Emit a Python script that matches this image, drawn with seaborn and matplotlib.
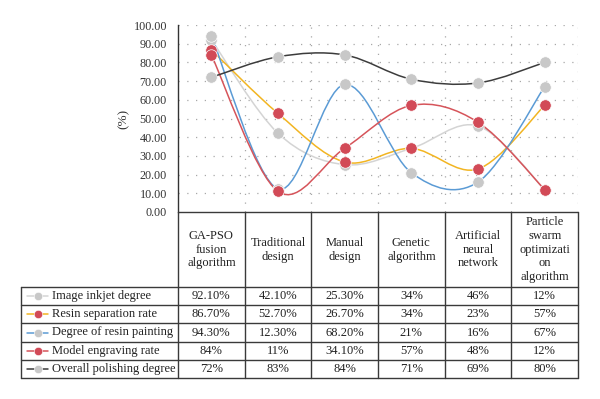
import numpy as np
import pandas as pd
import matplotlib
matplotlib.use("Agg")
import matplotlib.pyplot as plt
from matplotlib.path import Path
from matplotlib.patches import PathPatch
from matplotlib.lines import Line2D
import seaborn as sns

categories = ["GA-PSO\nfusion\nalgorithm", "Traditional\ndesign", "Manual\ndesign",
              "Genetic\nalgorithm", "Artificial\nneural\nnetwork",
              "Particle\nswarm\noptimizati\non\nalgorithm"]
series_names = ["Image inkjet degree", "Resin separation rate", "Degree of resin painting",
                "Model engraving rate", "Overall polishing degree"]
image_inkjet = [92.1, 42.1, 25.3, 34, 46, 12]
resin_separation = [86.7, 52.7, 26.7, 34, 23, 57]
resin_painting = [94.3, 12.3, 68.2, 21, 16, 67]
model_engraving = [84, 11, 34.1, 57, 48, 12]
overall_polishing = [72, 83, 84, 71, 69, 80]
table_labels = [["92.10%", "42.10%", "25.30%", "34%", "46%", "12%"],
                ["86.70%", "52.70%", "26.70%", "34%", "23%", "57%"],
                ["94.30%", "12.30%", "68.20%", "21%", "16%", "67%"],
                ["84%", "11%", "34.10%", "57%", "48%", "12%"],
                ["72%", "83%", "84%", "71%", "69%", "80%"]]
yticks = [0, 10, 20, 30, 40, 50, 60, 70, 80, 90, 100]

values = [image_inkjet, resin_separation, resin_painting, model_engraving, overall_polishing]
line_colors = ["#d4d4d4", "#f2b522", "#5b9bd5", "#d6545a", "#3c3c3c"]
marker_colors = ["#c8c8c8", "#d24a57", "#c8c8c8", "#d24a57", "#c8c8c8"]

sns.set_theme(style="white")
plt.rcParams["font.family"] = ["Liberation Serif", "DejaVu Serif"]

fig = plt.figure(figsize=(6, 3.99), dpi=100)
W, H = 600, 399
x0, x1, ytop, ybot = 178, 578, 25, 212
ax = fig.add_axes([x0 / W, 1 - ybot / H, (x1 - x0) / W, (ybot - ytop) / H])

def smooth_path(xs, ys):
    pts = np.column_stack([xs, ys]).astype(float)
    n = len(pts)
    verts = [pts[0]]
    codes = [Path.MOVETO]
    for i in range(n - 1):
        p0 = pts[i - 1] if i > 0 else pts[i]
        p1 = pts[i]
        p2 = pts[i + 1]
        p3 = pts[i + 2] if i + 2 < n else pts[i + 1]
        c1 = p1 + (p2 - p0) / 6.0
        c2 = p2 - (p3 - p1) / 6.0
        verts += [c1, c2, p2]
        codes += [Path.CURVE4] * 3
    return Path(verts, codes)

xs = np.arange(len(categories))
for k, (name, vals) in enumerate(zip(series_names, values)):
    patch = PathPatch(smooth_path(xs, vals), facecolor="none", edgecolor=line_colors[k],
                      lw=1.1, zorder=3 + k * 0.1)
    ax.add_patch(patch)

for k, (name, vals) in enumerate(zip(series_names, values)):
    df = pd.DataFrame({"x": xs, "y": vals})
    sns.scatterplot(data=df, x="x", y="y", ax=ax, color=marker_colors[k], s=68,
                    edgecolor="white", linewidth=0.5, zorder=5 + k * 0.1, legend=False)

ax.set_xlim(-0.5, len(categories) - 0.5)
ax.set_ylim(0, 100)
ax.set_yticks(yticks)
ax.set_yticklabels([f"{t:.2f}" for t in yticks], fontsize=8.7, color="#333333")
ax.set_xticks([])
ax.set_xlabel("")
ax.set_ylabel("(%)", fontsize=9.5, color="#333333", labelpad=3)
ax.tick_params(axis="y", length=0, pad=8)

grid_kw = dict(color="#a8a8a8", lw=0.9, linestyle=(0, (1, 6)), zorder=1)
for t in yticks[1:]:
    ax.axhline(t, **grid_kw)
for b in np.arange(0.5, len(categories), 1.0):
    ax.axvline(b, **grid_kw)

for s in ["top", "right", "bottom"]:
    ax.spines[s].set_visible(False)
ax.spines["left"].set_color("#333333")
ax.spines["left"].set_linewidth(1.0)

# Data table below plot
tr = ax.get_xaxis_transform()
ax_h = ybot - ytop
hdr_bot = -(287.3 - ybot) / ax_h
row_h = 18.08 / ax_h
n_rows = len(series_names)
tab_bot = hdr_bot - n_rows * row_h
px_per_unit = (x1 - x0) / len(categories)
def px2x(px):
    return -0.5 + (px - x0) / px_per_unit
left_x = px2x(21)
right_x = len(categories) - 0.5
lc = "#3a3a3a"
lkw = dict(color=lc, lw=1.0, transform=tr, clip_on=False, zorder=6)

ax.add_line(Line2D([-0.5, right_x], [0, 0], **lkw))
for b in np.arange(-0.5, len(categories), 1.0):
    ax.add_line(Line2D([b, b], [0, tab_bot], **lkw))
ax.add_line(Line2D([left_x, left_x], [hdr_bot, tab_bot], **lkw))
for r in range(n_rows + 1):
    yy = hdr_bot - r * row_h
    ax.add_line(Line2D([left_x, right_x], [yy, yy], **lkw))

txt_kw = dict(transform=tr, clip_on=False, fontsize=9.0, color="#222222")
for i, c in enumerate(categories):
    ax.text(i, hdr_bot / 2, c, ha="center", va="center", linespacing=1.2, **txt_kw)

for r, name in enumerate(series_names):
    yc = hdr_bot - (r + 0.5) * row_h
    ax.add_line(Line2D([px2x(27), px2x(48)], [yc, yc], color=line_colors[r], lw=1.1,
                       transform=tr, clip_on=False, zorder=6))
    ax.add_line(Line2D([px2x(37.5)], [yc], marker="o", markersize=6, color=marker_colors[r],
                       markeredgecolor="white", markeredgewidth=0.4, linestyle="none",
                       transform=tr, clip_on=False, zorder=7))
    ax.text(px2x(52), yc, name, ha="left", va="center", **txt_kw)
    for i, lab in enumerate(table_labels[r]):
        ax.text(i, yc, lab, ha="center", va="center", **txt_kw)

fig.savefig("out.png", dpi=100, facecolor="white")
